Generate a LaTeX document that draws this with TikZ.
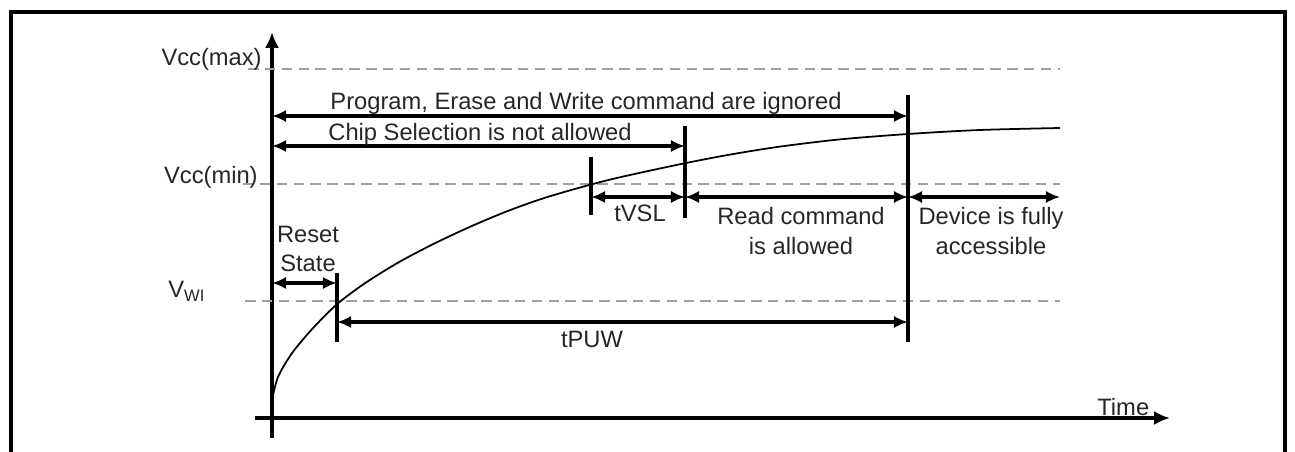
\documentclass[tikz,border=0pt]{standalone}
\usepackage{fontspec}
\setmainfont{Liberation Sans}
\usetikzlibrary{arrows.meta}

\begin{document}
\begin{tikzpicture}[x=0.02cm, y=-0.02cm,
    mydash/.style={gray!75, line width=1.6pt, dash pattern=on 6pt off 3.6pt},
    myarrow/.style={{Latex[length=8pt,width=7pt]}-{Latex[length=8pt,width=7pt]}, line width=1.9pt},
    mymark/.style={line width=1.9pt},
    myaxis/.style={-{Latex[length=9pt,width=8pt]}, line width=1.9pt},
    mylabel/.style={font=\fontsize{13.5}{17}\selectfont, text=black!85, inner sep=0pt, align=center}
]
    \useasboundingbox (0,0) rectangle (1295,452);

    % Frame
    \draw[line width=2pt] (11,452) -- (11,12) -- (1285,12) -- (1285,452);

    % Axes
    \coordinate (ybot) at (272,438);
    \coordinate (ytop) at (272,32);
    \coordinate (xleft) at (255,418);
    \coordinate (xright) at (1170,418);
    \draw[myaxis] (ybot) -- (ytop);
    \draw[myaxis] (xleft) -- (xright);
    \node[mylabel, anchor=base west] (time) at (1097,416) {Time};

    % Voltage levels
    \coordinate (vmaxL) at (248,69);
    \coordinate (vmaxR) at (1060,69);
    \coordinate (vminL) at (243,184);
    \coordinate (vminR) at (1060,184);
    \coordinate (vwiL) at (245,301);
    \coordinate (vwiR) at (1060,301);
    \draw[mydash] (vmaxL) -- (vmaxR);
    \draw[mydash] (vminL) -- (vminR);
    \draw[mydash] (vwiL) -- (vwiR);
    \node[mylabel, anchor=base east] (vmax) at (262,66) {Vcc(max)};
    \node[mylabel, anchor=base east] (vmin) at (258,184) {Vcc(min)};
    \node[mylabel, anchor=base west] (vwi) at (168,298) {V\textsubscript{WI}};

    % Supply ramp
    \draw[line width=1pt] plot[smooth] coordinates {(272,400) (278,377) (292,353.2)
        (312,329.2) (337,304.2) (365,283.2) (398,262.7) (432,244.7) (470,226.8)
        (507,211.3) (540,199.4) (573,189.5) (606,180.6) (640,172.8) (687,162.8)
        (730,154.6) (780,146.6) (840,139.4) (908,134) (980,130) (1060,128)};

    % Time marks
    \coordinate (m1t) at (337,273);  \coordinate (m1b) at (337,342);
    \coordinate (m2t) at (591,157);  \coordinate (m2b) at (591,215);
    \coordinate (m3t) at (685,126);  \coordinate (m3b) at (685,218);
    \coordinate (m4t) at (908,95);   \coordinate (m4b) at (908,342);
    \draw[mymark] (m1t) -- (m1b);
    \draw[mymark] (m2t) -- (m2b);
    \draw[mymark] (m3t) -- (m3b);
    \draw[mymark] (m4t) -- (m4b);

    % Ignored / not allowed
    \coordinate (pgL) at (272,116);  \coordinate (pgR) at (908,116);
    \coordinate (csL) at (272,146);  \coordinate (csR) at (685,146);
    \draw[myarrow] (pgL) -- (pgR);
    \draw[myarrow] (csL) -- (csR);
    \node[mylabel, anchor=base] (pg) at (586,110) {Program, Erase and Write command are ignored};
    \node[mylabel, anchor=base] (cs) at (480,141) {Chip Selection is not allowed};

    % Intervals above Vcc(min)
    \coordinate (vslL) at (591,197);  \coordinate (vslR) at (685,197);
    \coordinate (rdR) at (908,197);   \coordinate (devR) at (1060,197);
    \draw[myarrow] (vslL) -- (vslR);
    \draw[myarrow] (vslR) -- (rdR);
    \draw[myarrow] (rdR) -- (devR);
    \node[mylabel, anchor=base] (tvsl) at (640,222) {tVSL};
    \node[mylabel] (rd) at (801,231) {Read command\\is allowed};
    \node[mylabel] (dev) at (991,231) {Device is fully\\accessible};

    % Reset and tPUW
    \coordinate (rsL) at (272,283);  \coordinate (rsR) at (337,283);
    \coordinate (puL) at (337,322);  \coordinate (puR) at (908,322);
    \draw[myarrow] (rsL) -- (rsR);
    \draw[myarrow] (puL) -- (puR);
    \node[mylabel] (rs) at (308,249) {Reset\\State};
    \node[mylabel, anchor=base] (pu) at (592,348) {tPUW};
\end{tikzpicture}
\end{document}
